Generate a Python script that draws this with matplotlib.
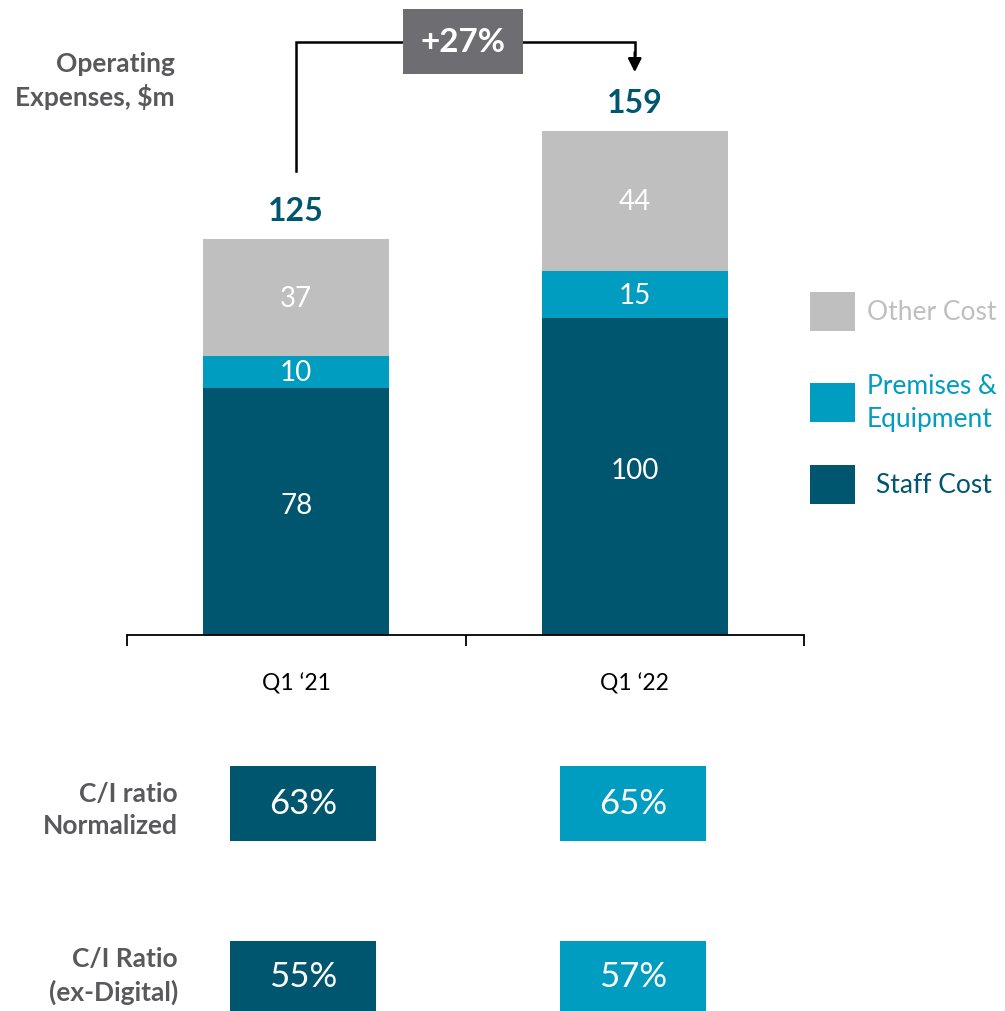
import numpy as np
import matplotlib
matplotlib.use("Agg")
import matplotlib.pyplot as plt
from matplotlib.patches import Rectangle

plt.rcParams["font.family"] = ["Lato", "DejaVu Sans"]

# ── Data ────────────────────────────────────────────────────────────────
quarters = ["Q1 \u201821", "Q1 \u201822"]
staff_cost = [78, 100]
premises = [10, 15]
other_cost = [37, 44]
totals = [125, 159]
ci_normalized = [63, 65]
ci_ex_digital = [55, 57]

STAFF = "#00566F"
PREM = "#009DC0"
OTHER = "#BFBFBF"
DARKGREY = "#59595C"
BOXGREY = "#6D6D72"

W, H = 1005, 1012
fig = plt.figure(figsize=(W / 100, H / 100), dpi=100)

# main chart axes: x from 127px to 804px, baseline at 636px
ax = fig.add_axes([127 / W, (H - 636) / H, 677 / W, 636 / H])
x = np.arange(len(quarters))
bw = 0.55
ax.bar(x, staff_cost, bw, color=STAFF)
ax.bar(x, premises, bw, bottom=staff_cost, color=PREM)
bot3 = np.array(staff_cost) + np.array(premises)
ax.bar(x, other_cost, bw, bottom=bot3, color=OTHER)

ax.set_xlim(-0.5, 1.5)
ax.set_ylim(0, 200.8)
for s in ["top", "right", "left"]:
    ax.spines[s].set_visible(False)
ax.spines["bottom"].set_color("black")
ax.spines["bottom"].set_linewidth(1.3)
ax.set_yticks([])
ax.set_xticks([-0.5, 0.5, 1.5])
ax.set_xticklabels([])
ax.tick_params(axis="x", direction="out", length=8, width=1.3, color="black")

for i in range(len(quarters)):
    ax.text(x[i], staff_cost[i] / 2 + 2, str(staff_cost[i]), ha="center",
            va="center", color="white", fontsize=20)
    ax.text(x[i], staff_cost[i] + premises[i] / 2, str(premises[i]), ha="center",
            va="center", color="white", fontsize=20)
    ax.text(x[i], bot3[i] + other_cost[i] / 2, str(other_cost[i]), ha="center",
            va="center", color="white", fontsize=20)
    ax.text(x[i], totals[i] + 9, str(totals[i]), ha="center", va="center",
            color=STAFF, fontsize=23, fontweight="bold")
    ax.text(x[i], -15, quarters[i], ha="center", va="center", color="black",
            fontsize=16.5, clip_on=False)

# growth bracket
ax.plot([0, 0, 1, 1], [146.5, 187.2, 187.2, 183], color="black", lw=1.8,
        clip_on=False, solid_joinstyle="miter")
ax.annotate("", xy=(1, 177.7), xytext=(1, 184), annotation_clip=False,
            arrowprops=dict(arrowstyle="-|>", color="black", lw=1.8,
                            mutation_scale=20, shrinkA=0, shrinkB=0))
ax.add_patch(Rectangle((0.315, 177.1), 0.355, 20.5, facecolor=BOXGREY,
                       edgecolor="none", clip_on=False, zorder=3))
growth = (totals[1] / totals[0] - 1) * 100
ax.text(0.4925, 187.3, f"+{growth:.0f}%", ha="center", va="center",
        color="white", fontsize=24, fontweight="bold", zorder=4)

fig.text(175 / W, 1 - 81 / H, "Operating\nExpenses, $m", ha="right", va="center",
         color=DARKGREY, fontsize=19, fontweight="bold", linespacing=1.35)

# legend
leg = [("Other Cost", OTHER, 293, 867), ("Premises &\nEquipment", PREM, 384, 867),
       ("Staff Cost", STAFF, 466, 876)]
for label, col, ytop, tx in leg:
    fig.patches.append(Rectangle((810 / W, 1 - (ytop + 39) / H), 45 / W, 39 / H,
                                 facecolor=col, edgecolor="none",
                                 transform=fig.transFigure))
    yc = ytop + 19.5 if "\n" not in label else 403
    fig.text(tx / W, 1 - yc / H, label, ha="left", va="center", color=col,
             fontsize=19, linespacing=1.4)

# C/I ratio boxes
ax2 = fig.add_axes([127 / W, 0, 677 / W, 312 / H])
ax2.set_xlim(-0.5, 1.5)
ax2.set_ylim(1012, 700)
ax2.axis("off")
box_x = x + np.array([0.02, -0.005])
box_cols = [STAFF, PREM]
rows = [(ci_normalized, 767, 75), (ci_ex_digital, 942, 70)]
for vals, top, hgt in rows:
    ax2.bar(box_x, [hgt] * len(box_x), 0.43, bottom=top, color=box_cols)
    for i, v in enumerate(vals):
        ax2.text(box_x[i], top + hgt / 2, f"{v}%", ha="center", va="center",
                 color="white", fontsize=25)

fig.text(178 / W, 1 - 810 / H, "C/I ratio\nNormalized", ha="right", va="center",
         color=DARKGREY, fontsize=19, fontweight="bold", linespacing=1.4)
fig.text(178 / W, 1 - 976 / H, "C/I Ratio\n(ex-Digital)", ha="right", va="center",
         color=DARKGREY, fontsize=19, fontweight="bold", linespacing=1.4)

fig.savefig("out.png", dpi=100)
